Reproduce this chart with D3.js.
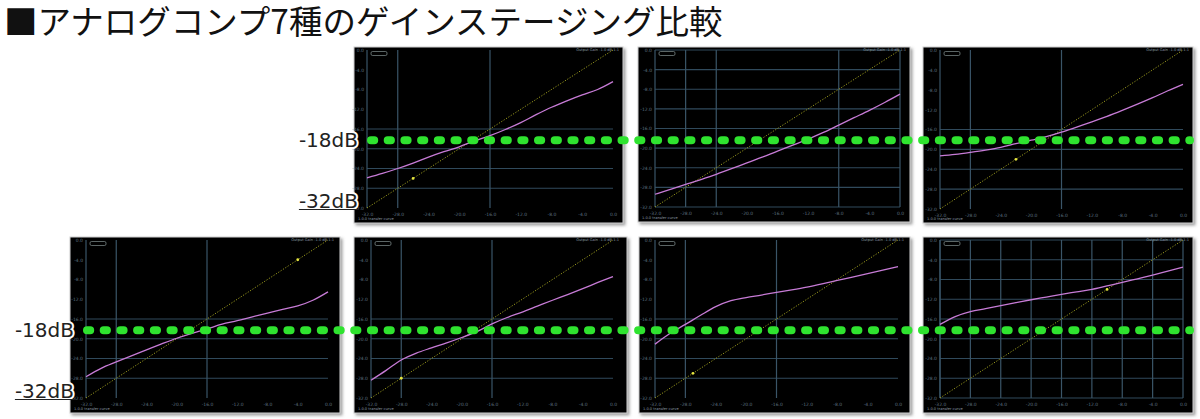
<!DOCTYPE html>
<html><head><meta charset="utf-8">
<script src="https://cdn.jsdelivr.net/npm/d3@7"></script>
<style>body{margin:0;background:#fff;} svg{display:block}</style>
</head><body>
<svg id="c" width="1200" height="419"></svg>
<script>
// ---------- data ----------
const titleText = "■アナログコンプ7種のゲインステージング比較";
const inputDb = [-32,-30,-28,-26,-24,-22,-20,-18,-16,-14,-12,-10,-8,-6,-4,-2,0];
const tickValues = [-32,-28,-24,-20,-16,-12,-8,-4,0];
const tickLabels = ["-32.0","-28.0","-24.0","-20.0","-16.0","-12.0","-8.0","-4.0","0.0"];
const comp1 = [-25.9,-25.0,-24.0,-22.9,-21.7,-20.6,-19.6,-18.4,-17.35,-16.1,-14.7,-13.1,-11.6,-10.3,-9.1,-8.0,-6.4];
const comp2 = [-29.4,-28.4,-27.4,-26.4,-25.35,-24.2,-23.0,-21.85,-20.6,-19.4,-18.15,-16.8,-15.3,-13.8,-12.3,-10.7,-9.0];
const comp3 = [-21.3,-21.0,-20.6,-20.15,-19.6,-18.85,-18.15,-17.45,-16.55,-15.5,-14.45,-13.35,-12.15,-10.9,-9.6,-8.2,-6.9];
const comp4 = [-27.7,-26.0,-24.7,-23.45,-22.25,-21.05,-19.9,-18.9,-18.0,-17.05,-16.35,-15.55,-14.8,-14.05,-13.35,-12.2,-10.5];
const comp5 = [-28.4,-26.4,-24.3,-22.9,-21.85,-20.85,-19.75,-18.55,-17.0,-15.7,-14.6,-13.4,-12.2,-11.05,-9.85,-8.6,-7.4];
const comp6 = [-21.1,-18.9,-17.1,-15.25,-13.5,-12.3,-11.65,-11.15,-10.6,-10.1,-9.55,-8.9,-8.2,-7.5,-6.8,-6.1,-5.4];
const comp7 = [-17.1,-15.5,-14.5,-13.9,-13.3,-12.7,-12.1,-11.55,-11.0,-10.5,-10.0,-9.3,-8.6,-7.85,-7.1,-6.3,-5.5];
const curves = [comp1, comp2, comp3, comp4, comp5, comp6, comp7];
const markerDb = [-26, null, -22, -4, -28, -27, -10];
const vGridTicks = [[-28,-16],[-28,-24,-8,0],[-28,-16],[-28,-16],[-28,-16],[-28,-16],[-32,-28,-24,-20,-16,-12,-8,-4,0]];
const hGridTicks = [[-28,-24,-20,-16],[-32,-28,-24,-20,-16,-12,-8,-4,0],[-28,-24,-20,-16],[-28,-24,-20,-16],[-28,-24,-20,-16],[-28,-24,-20,-16],[-32,-28,-24,-20,-16,-12,-8,-4,0]];
const refLevel = -18;
const floorLevel = -32;
const refLabels = ["-18dB", "-32dB"];

// ---------- layout ----------
const panels = [
  {o:[354,47,623,223], p:[367,50,613,208]},
  {o:[638,47,910,222], p:[655,50,900,207]},
  {o:[923,47,1193,223], p:[940,50,1183,209]},
  {o:[70,237,340,413], p:[86,240,328,398]},
  {o:[354,237,627,413], p:[371,240,613,398]},
  {o:[639,237,910,413], p:[655,240,898,398]},
  {o:[923,237,1193,413], p:[940,240,1183,398]}
];

const svg = d3.select("#c");
const defs = svg.append("defs");
const f = defs.append("filter").attr("id","shadow").attr("x","-5%").attr("y","-5%").attr("width","115%").attr("height","115%");
f.append("feDropShadow").attr("dx",2).attr("dy",2).attr("stdDeviation",1.6).attr("flood-color","#888").attr("flood-opacity",0.8);

svg.append("text").attr("x",4).attr("y",34)
  .attr("font-family","'Noto Sans CJK JP','Noto Sans',sans-serif")
  .attr("font-size",33.5).attr("fill","#111").text(titleText);

const gridColor = "#304a5c";
const scales = [];

panels.forEach((pn, i) => {
  const [ox0, oy0, ox1, oy1] = pn.o;
  const [px0, py0, px1, py1] = pn.p;
  const x = d3.scaleLinear().domain([floorLevel, 0]).range([px0, px1]);
  const y = d3.scaleLinear().domain([floorLevel, 0]).range([py1, py0]);
  scales.push({x, y});
  const g = svg.append("g");
  g.append("rect").attr("x", ox0).attr("y", oy0).attr("width", ox1-ox0).attr("height", oy1-oy0)
    .attr("fill","#020304").attr("stroke","#cfcfcf").attr("stroke-width",1).attr("filter","url(#shadow)");

  // grid
  g.selectAll(".h").data(hGridTicks[i]).join("line")
    .attr("x1", px0).attr("x2", px1).attr("y1", d=>y(d)).attr("y2", d=>y(d))
    .attr("stroke", gridColor).attr("stroke-width",1.2);
  g.selectAll(".v").data(vGridTicks[i]).join("line")
    .attr("y1", py0).attr("y2", py1).attr("x1", d=>x(d)).attr("x2", d=>x(d))
    .attr("stroke", "#3a5568").attr("stroke-width",1.2);
  g.append("line").attr("x1",px0).attr("x2",px0).attr("y1",py0).attr("y2",py1)
    .attr("stroke","#3a5568").attr("stroke-width",1.2);

  // tiny axes
  const ax = d3.axisBottom(x).tickValues(tickValues).tickFormat((d,k)=>tickLabels[k]).tickSize(0).tickPadding(5);
  const ay = d3.axisLeft(y).tickValues(tickValues).tickFormat((d,k)=>tickLabels[k]).tickSize(0).tickPadding(3);
  const gx = g.append("g").attr("transform",`translate(0,${py1})`).call(ax);
  const gy = g.append("g").attr("transform",`translate(${px0},0)`).call(ay);
  [gx, gy].forEach(a => {
    a.select(".domain").remove();
    a.selectAll("text").attr("fill","#5f7280").attr("font-size",4.5).attr("font-family","DejaVu Sans");
  });

  // legend box and misc tiny text
  g.append("rect").attr("x", px0+4).attr("y", py0+1.5).attr("width", 16).attr("height", 4).attr("rx",1.5)
    .attr("fill","none").attr("stroke","#9aa").attr("stroke-width",0.6);
  g.append("text").attr("x", px1+6).attr("y", oy0+3.5).attr("text-anchor","end")
    .attr("font-size",3.6).attr("fill","#8a9aa5").attr("font-family","DejaVu Sans").text("Output  Gain -1.0  dB   1:1");
  g.append("text").attr("x", ox0+4).attr("y", oy1-3).attr("font-size",3.6).attr("fill","#8a9aa5")
    .attr("font-family","DejaVu Sans").text("1.0.0   transfer curve");

  // unity diagonal
  g.append("line").attr("x1", x(floorLevel)).attr("y1", y(floorLevel)).attr("x2", x(0)).attr("y2", y(0))
    .attr("stroke","#9a9a1e").attr("stroke-width",1).attr("stroke-dasharray","1.2 1.6");
  if (markerDb[i] !== null) {
    g.append("circle").attr("cx", x(markerDb[i])).attr("cy", y(markerDb[i])).attr("r",1.4).attr("fill","#e6e640");
  }

  // transfer curve
  const line = d3.line().x((d,k)=>x(inputDb[k])).y(d=>y(d)).curve(d3.curveMonotoneX);
  g.append("path").datum(curves[i]).attr("d", line).attr("fill","none")
    .attr("stroke","#c77bd6").attr("stroke-width",1.3);
});

// -18dB reference dashed lines
const rows = [{p:0, x0:371, x1:1190, lx:358}, {p:3, x0:87, x1:1190, lx:74}];
rows.forEach(r => {
  const s = scales[r.p];
  const yy = s.y(refLevel) + 1.3;
  svg.append("line").attr("x1", r.x0).attr("x2", r.x1).attr("y1", yy).attr("y2", yy)
    .attr("stroke","#2fe32f").attr("stroke-width",8).attr("stroke-linecap","round")
    .attr("stroke-dasharray","3.2 13.5");
  const lab = svg.append("g").attr("font-family","DejaVu Sans").attr("font-size",20).attr("text-anchor","end");
  lab.append("text").attr("x", r.lx).attr("y", yy+7).text(refLabels[0])
    .attr("fill","#222").attr("stroke","#fff").attr("stroke-width",4).attr("stroke-linejoin","round").attr("paint-order","stroke");
  const yb = s.y(floorLevel);
  const t = lab.append("text").attr("x", r.lx).attr("y", yb-0.5).text(refLabels[1])
    .attr("fill","#222").attr("stroke","#fff").attr("stroke-width",4).attr("stroke-linejoin","round").attr("paint-order","stroke");
  const bb = t.node().getBBox();
  svg.append("line").attr("x1", bb.x).attr("x2", r.lx+1).attr("y1", yb+1.5).attr("y2", yb+1.5)
    .attr("stroke","#222").attr("stroke-width",1.2);
});
</script>
</body></html>
